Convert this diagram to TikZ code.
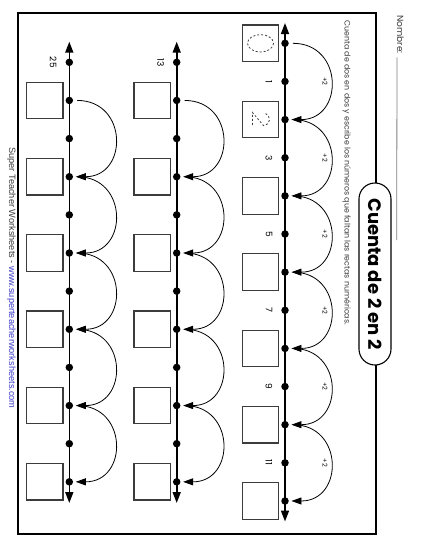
\documentclass[tikz,border=0pt]{standalone}
\usepackage{fontspec}
\setmainfont{Poppins}
\newfontfamily\footfont{Liberation Sans}
\usetikzlibrary{arrows.meta,calc,positioning}
\definecolor{sheetgray}{RGB}{60,60,60}
\definecolor{linkblue}{RGB}{60,60,200}

\tikzset{
  numline/.style={line width=1.6pt, {Triangle[length=11pt,width=8pt]}-{Triangle[length=11pt,width=8pt]}},
  dot/.style={circle, fill=black, inner sep=0pt, minimum size=7.5pt},
  ansbox/.style={draw=sheetgray, line width=1.2pt, minimum size=36.5pt, inner sep=0pt},
  hop/.style={line width=0.8pt, -{Triangle[length=10pt,width=7pt]}, shorten <=4pt, shorten >=2.5pt},
  numlab/.style={rotate=-90, font=\fontsize{9}{10}\selectfont},
  pluslab/.style={rotate=-90, font=\fontsize{6.5}{7}\selectfont}
}

\begin{document}
\begin{tikzpicture}[x=1pt,y=-1pt]
    \useasboundingbox (0,0) rectangle (425,550);

    % frame
    \draw[line width=1.1pt] (18,13) rectangle (376,534);

    % header
    \node[rotate=-90, anchor=base west, font=\fontsize{9}{10}\selectfont, text=sheetgray] (nombre) at (397,12) {Nombre:};
    \draw[gray, line width=0.8pt] (nombre.base east) -- (396.7,240);
    \node[rotate=-90, draw, fill=white, line width=1.1pt, rounded corners=16pt,
          minimum width=182pt, minimum height=32pt, font=\fontsize{18}{20}\selectfont\bfseries] (title) at (375,274) {Cuenta de 2 en 2};
    \node[rotate=-90, anchor=west, font=\fontsize{7.9}{9}\selectfont, text=sheetgray] (task) at (346.7,17)
        {Cuenta de dos en dos y escribe los números que faltan las rectas numéricas.};

    % number line 1 (0 to 12)
    \coordinate (topa) at (285,23);
    \coordinate (bota) at (285,521.5);
    \draw[numline] (topa) -- (bota);
    \foreach \k in {0,...,12}
        \node[dot] (a\k) at (285, {43.3+38.14*\k}) {};
    \foreach \k in {0,2,...,12}
        \node[ansbox] (boxa\k) at ($(a\k)+(-24.5,0)$) {};
    \foreach \k in {1,3,...,11}
        \node[numlab] (laba\k) at ($(a\k)+(-16,0)$) {\k};
    \foreach \k [evaluate=\k as \j using int(\k+2), evaluate=\k as \m using int(\k+1)] in {0,2,...,10} {
        \draw[hop] (a\k) to[out=0, in=0, looseness=1.85] (a\j);
        \node[pluslab] (plusa\k) at ($(a\m)+(40,0)$) {+2};
    }

    % dashed hints
    \draw[sheetgray, dashed, dash pattern=on 2pt off 2pt, line width=0.8pt] (boxa0) ellipse [x radius=13, y radius=8.7];
    \draw[sheetgray, dashed, dash pattern=on 2pt off 2pt, line width=0.8pt]
        ($(boxa2)+(5,-6)$) .. controls ($(boxa2)+(11,-3)$) and ($(boxa2)+(10,5)$) .. ($(boxa2)+(3,6)$)
        -- ($(boxa2)+(-8,-7)$) -- ($(boxa2)+(-8,7)$);

    % number lines 2 and 3 (13 to 24, 25 to 36)
    \foreach \l/\x/\v in {b/176.7/13, c/69.3/25} {
        \coordinate (top\l) at (\x,41.7);
        \coordinate (bot\l) at (\x,503);
        \draw[numline] (top\l) -- (bot\l);
        \foreach \k in {0,...,11}
            \node[dot] (\l\k) at (\x, {62.3+38.14*\k}) {};
        \foreach \k in {1,3,...,11}
            \node[ansbox] (box\l\k) at ($(\l\k)+(-24.5,0)$) {};
        \node[numlab] (lab\l0) at ($(\l0)+(-16,0)$) {\v};
        \foreach \k [evaluate=\k as \j using int(\k+2)] in {1,3,...,9}
            \draw[hop] (\l\k) to[out=0, in=0, looseness=1.85] (\l\j);
    }

    % footer
    \node[rotate=-90, font=\footfont\fontsize{9.2}{10}\selectfont] (foot) at (11.5,278)
        {\textcolor{sheetgray}{Super Teacher Worksheets - }\textcolor{linkblue}{www.superteacherworksheets.com}};
\end{tikzpicture}
\end{document}
